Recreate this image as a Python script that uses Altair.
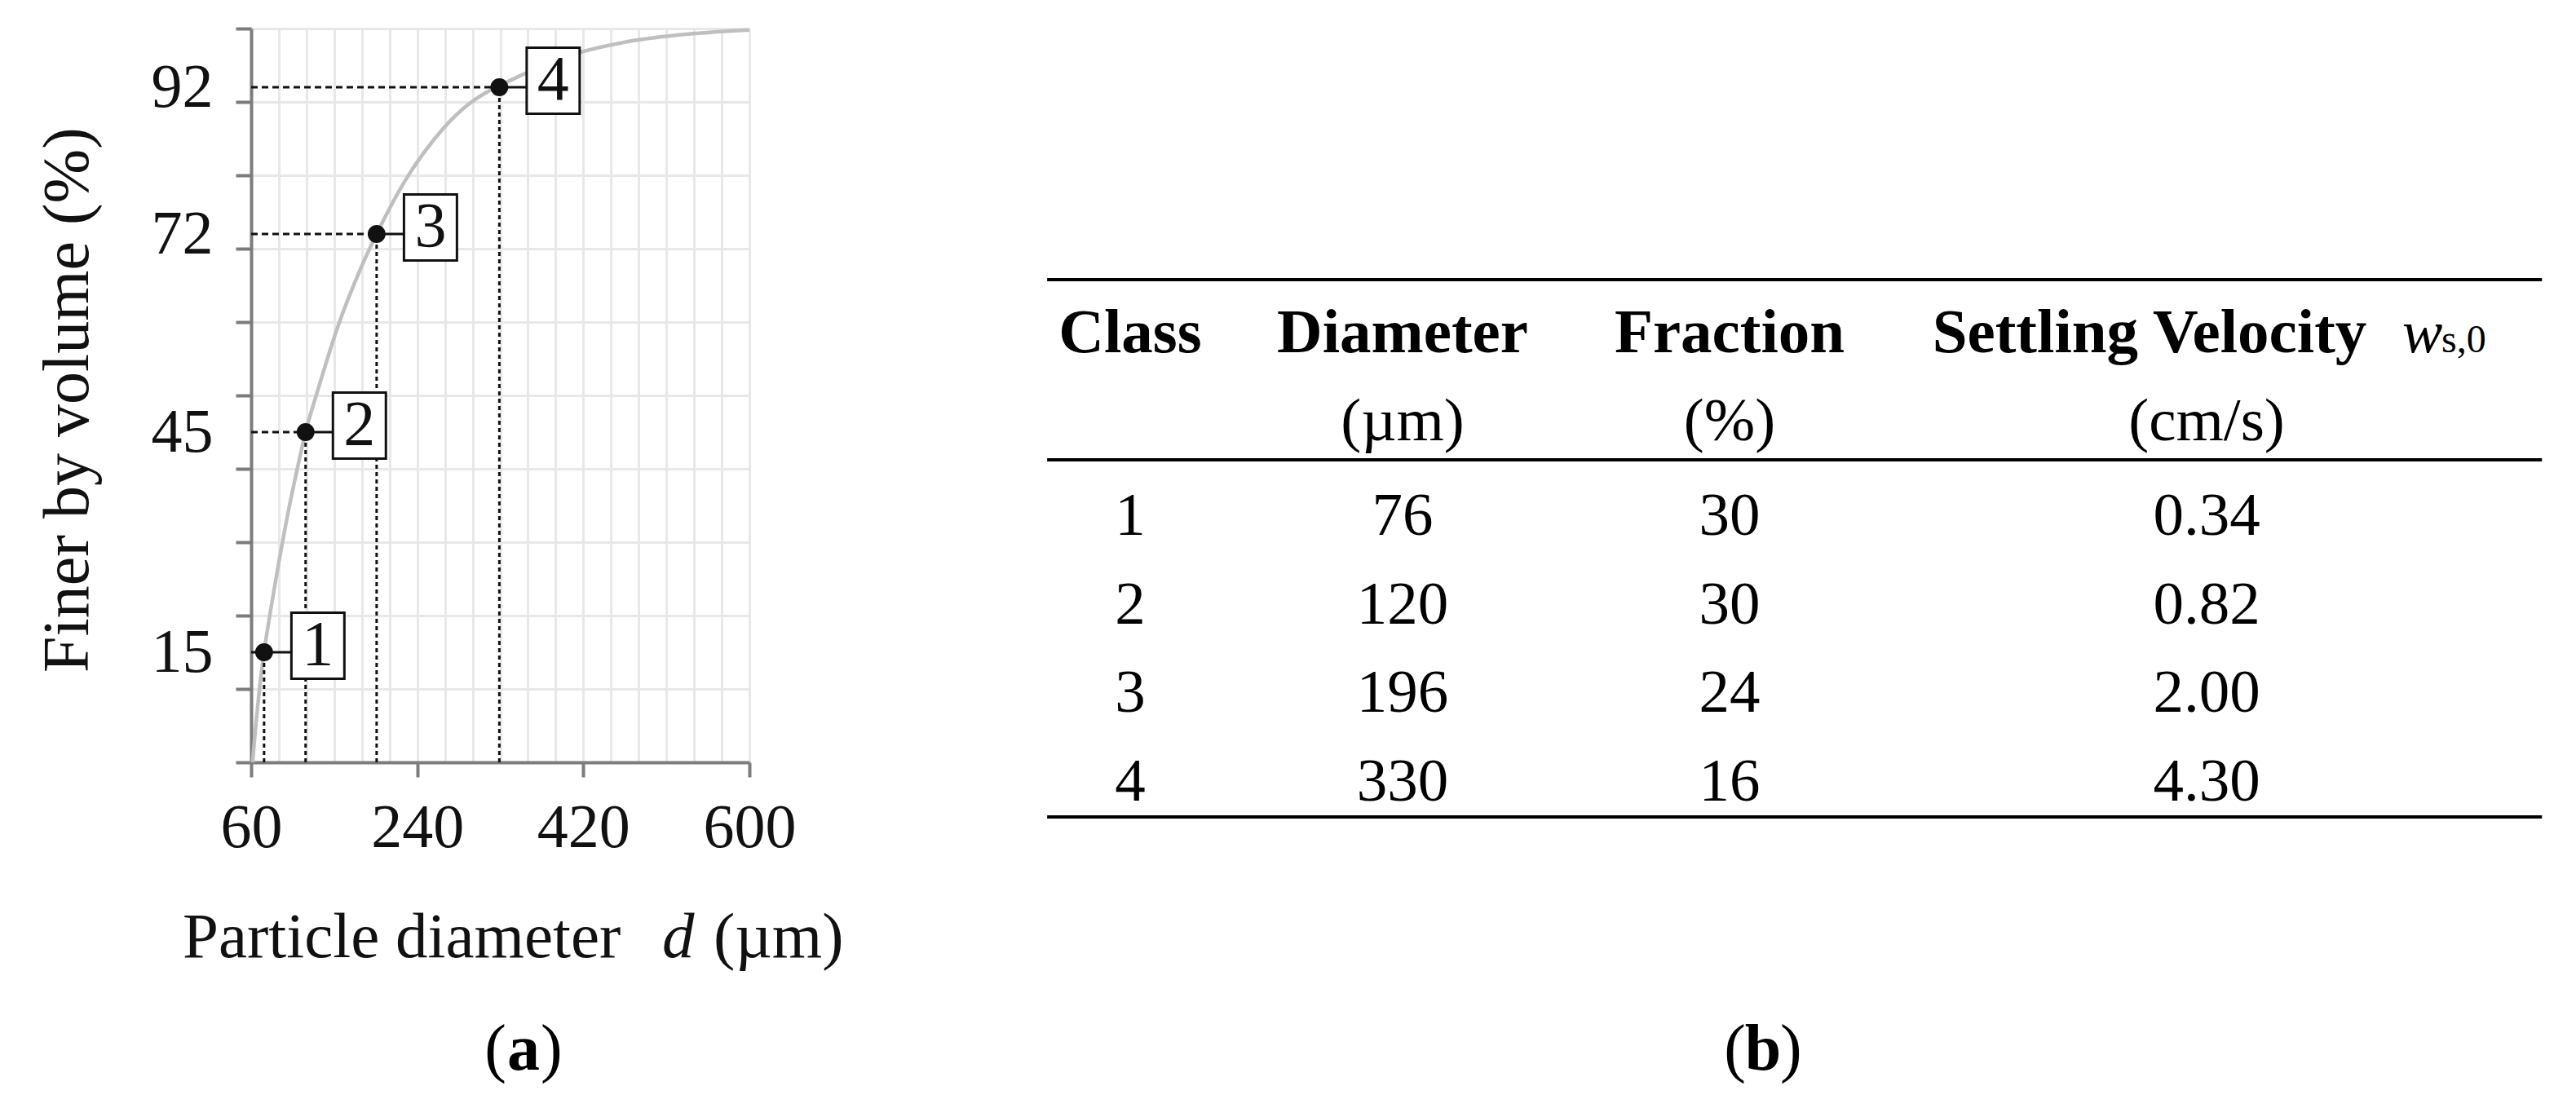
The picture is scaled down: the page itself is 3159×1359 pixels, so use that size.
import altair as alt
import pandas as pd

# ---------------- data ----------------
# cumulative grain-size curve (particle diameter in um, finer by volume in %)
curve_d = [61.5, 65, 69, 74, 82, 90, 99, 110, 119, 131, 154, 178, 196, 230, 259, 289, 315, 329, 370, 415, 463, 522, 600]
curve_f = [0, 5, 10, 15, 21.4, 27.3, 33.4, 40, 45, 50.2, 59.4, 67.1, 72, 79.9, 85.0, 89, 91.3, 92.2, 94.6, 96.7, 98.1, 99.1, 99.8]

# the four marked classes on the curve
class_ids = ["1", "2", "3", "4"]
class_d = [74, 119, 196, 329]
class_f = [15, 45, 72, 92]

# axis ticks / labels
x_label_values = [60, 240, 420, 600]
x_grid_values = [60, 90, 120, 150, 180, 210, 240, 270, 300, 330, 360, 390, 420, 450, 480, 510, 540, 570, 600]
y_label_values = [15, 45, 72, 92]
y_tick_values = [0, 10, 20, 30, 40, 50, 60, 70, 80, 90, 100]
x_title_parts = ["Particle diameter", "d", "(µm)"]
y_title = "Finer by volume (%)"

# table (b)
table_header1 = ["Class", "Diameter", "Fraction"]
table_header1_last = "Settling Velocity"
table_symbol = "w"
table_symbol_sub = "s,0"
table_header2 = ["", "(µm)", "(%)", "(cm/s)"]
table_class = ["1", "2", "3", "4"]
table_diameter = ["76", "120", "196", "330"]
table_fraction = ["30", "30", "24", "16"]
table_velocity = ["0.34", "0.82", "2.00", "4.30"]

caption_letters = ["a", "b"]

# ---------------- styling ----------------
SERIF = "Liberation Serif"
INK = "#111111"
AXIS_GREY = "#7c7c7c"
GRID_GREY = "#e8e8e8"

# layout helpers (table column / line placement, pixels relative to plot origin)
table_col_index = [0, 1, 2, 3]
table_col_px = [1078, 1412, 1813, 2398]
table_slot_index = [0, 1, 2, 5]
table_slot_px = [397, 505, 621, 947]
table_rule_slots = [-0.824, 1.207, 5.184]
table_rule_span = [-0.305, 3.703]
caption_index = [0, 1]
caption_px = [334, 1854]

# ---------------- frames ----------------
df_curve = pd.DataFrame({"d": curve_d, "f": curve_f})
df_pts = pd.DataFrame({"id": class_ids, "d": class_d, "f": class_f})
df_pts["x0"] = x_label_values[0]
df_pts["y0"] = y_tick_values[0]

xs = alt.Scale(domain=[60, 600], nice=False, zero=False)
ys = alt.Scale(domain=[0, 100], nice=False, zero=False)

x_axis = alt.Axis(
    values=x_grid_values,
    labelExpr=f"indexof({x_label_values}, datum.value) >= 0 ? datum.label : ''",
    tickOpacity={"condition": {"test": f"indexof({x_label_values}, datum.value) < 0", "value": 0}, "value": 1},
    grid=True, gridColor=GRID_GREY, gridWidth=3,
    domainColor=AXIS_GREY, domainWidth=4,
    tickColor=AXIS_GREY, tickWidth=4, tickSize=18,
    labelFont=SERIF, labelFontSize=76, labelColor=INK, labelPadding=85,
    labelBaseline="alphabetic", labelFlush=False, labelOverlap=False,
    title=None,
)
y_all_values = sorted(set(y_tick_values + y_label_values))
y_axis = alt.Axis(
    values=y_all_values,
    labelExpr=f"indexof({y_label_values}, datum.value) >= 0 ? datum.label : ''",
    tickOpacity={"condition": {"test": f"indexof({y_tick_values}, datum.value) < 0", "value": 0}, "value": 1},
    gridOpacity={"condition": {"test": f"indexof({y_tick_values}, datum.value) < 0", "value": 0}, "value": 1},
    grid=True, gridColor=GRID_GREY, gridWidth=3,
    domainColor=AXIS_GREY, domainWidth=4,
    tickColor=AXIS_GREY, tickWidth=4, tickSize=19,
    labelFont=SERIF, labelFontSize=76, labelColor=INK, labelPadding=28,
    labelBaseline="middle", labelFlush=False, labelOverlap=False,
    title=y_title, titleFont=SERIF, titleFontSize=80,
    titleFontWeight="normal", titleColor=INK, titleAngle=270,
    titleX=-225, titleY=455, titleBaseline="middle", titleAlign="center",
)

X = lambda f: alt.X(f, scale=xs, axis=x_axis)
Y = lambda f: alt.Y(f, scale=ys, axis=y_axis)

curve = alt.Chart(df_curve).mark_line(
    color="#bfbfbf", strokeWidth=4.5, interpolate="monotone"
).encode(x=X("d:Q"), y=Y("f:Q"))

vdash = alt.Chart(df_pts).mark_rule(
    color=INK, strokeWidth=3, strokeDash=[5, 4]
).encode(x=X("d:Q"), y=Y("y0:Q"), y2="f:Q")

hdash = alt.Chart(df_pts).mark_rule(
    color=INK, strokeWidth=3, strokeDash=[8, 5]
).encode(x=X("x0:Q"), x2="d:Q", y=Y("f:Q"))

box_path = "M-1.63,0.198H-0.802M-0.802,-1H0.802V1H-0.802Z"
boxes = alt.Chart(df_pts).mark_point(
    shape=box_path, size=6561, filled=True, fill="white", stroke=INK,
    strokeWidth=3, opacity=1, xOffset=66, yOffset=-8,
).encode(x=X("d:Q"), y=Y("f:Q"))

dots = alt.Chart(df_pts).mark_circle(size=480, color=INK, opacity=1).encode(
    x=X("d:Q"), y=Y("f:Q")
)

nums = alt.Chart(df_pts).mark_text(
    font=SERIF, fontSize=78, color=INK, dx=66, dy=-8, align="center", baseline="middle"
).encode(x=X("d:Q"), y=Y("f:Q"), text="id:N")

plot = alt.layer(curve, vdash, hdash, boxes, dots, nums)

# x-axis title with an italic "d"
xt_style = dict(font=SERIF, fontSize=79, color=INK, align="left", baseline="alphabetic")
xt1 = alt.Chart(pd.DataFrame({"t": [x_title_parts[0]]})).mark_text(**xt_style).encode(
    x=alt.value(-84), y=alt.value(1139), text="t:N")
xt2 = alt.Chart(pd.DataFrame({"t": [x_title_parts[1]]})).mark_text(fontStyle="italic", **xt_style).encode(
    x=alt.value(504), y=alt.value(1139), text="t:N")
xt3 = alt.Chart(pd.DataFrame({"t": [x_title_parts[2]]})).mark_text(**xt_style).encode(
    x=alt.value(567), y=alt.value(1139), text="t:N")

# ---------------- table ----------------
tx = alt.Scale(domain=table_col_index, range=table_col_px, nice=False, zero=False)
ty = alt.Scale(domain=table_slot_index, range=table_slot_px, nice=False, zero=False)
TX = lambda f: alt.X(f, scale=tx, axis=None)
TY = lambda f: alt.Y(f, scale=ty, axis=None)

df_h1 = pd.DataFrame({"col": [0, 1, 2], "slot": [0, 0, 0], "text": table_header1})
df_h1b = pd.DataFrame({"col": [3], "slot": [0], "text": [table_header1_last]})
df_sym = pd.DataFrame({"col": [3], "slot": [0], "text": [table_symbol]})
df_sub = pd.DataFrame({"col": [3], "slot": [0], "text": [table_symbol_sub]})

cells = []
for c, t in enumerate(table_header2):
    if t:
        cells.append({"col": c, "slot": 1, "text": t})
for r, row in enumerate(zip(table_class, table_diameter, table_fraction, table_velocity)):
    for c, t in enumerate(row):
        cells.append({"col": c, "slot": 2 + r, "text": t})
df_body = pd.DataFrame(cells)

df_rules = pd.DataFrame({"slot": table_rule_slots,
                         "x0": [table_rule_span[0]] * 3,
                         "x1": [table_rule_span[1]] * 3})

t_h1 = alt.Chart(df_h1).mark_text(
    font=SERIF, fontSize=77, fontWeight="bold", color="black", align="center", baseline="alphabetic"
).encode(x=TX("col:Q"), y=TY("slot:Q"), text="text:N")
t_h1b = alt.Chart(df_h1b).mark_text(
    font=SERIF, fontSize=77, fontWeight="bold", color="black", align="center", baseline="alphabetic", dx=-70
).encode(x=TX("col:Q"), y=TY("slot:Q"), text="text:N")
t_sym = alt.Chart(df_sym).mark_text(
    font=SERIF, fontSize=74, fontStyle="italic", color="black", align="left", baseline="alphabetic", dx=240
).encode(x=TX("col:Q"), y=TY("slot:Q"), text="text:N")
t_sub = alt.Chart(df_sub).mark_text(
    font=SERIF, fontSize=48, color="black", align="left", baseline="alphabetic", dx=288
).encode(x=TX("col:Q"), y=TY("slot:Q"), text="text:N")
t_body = alt.Chart(df_body).mark_text(
    font=SERIF, fontSize=75, color="black", align="center", baseline="alphabetic"
).encode(x=TX("col:Q"), y=TY("slot:Q"), text="text:N")
t_rules = alt.Chart(df_rules).mark_rule(color="black", strokeWidth=4).encode(
    x=TX("x0:Q"), x2="x1:Q", y=TY("slot:Q")
)

table = alt.layer(t_rules, t_h1, t_h1b, t_sym, t_sub, t_body)

# ---------------- captions: "(a)" and "(b)" with bold letters ----------------
df_cap = pd.DataFrame({"pos": caption_index, "letter": caption_letters})
capx = alt.X("pos:Q", scale=alt.Scale(domain=caption_index, range=caption_px, nice=False, zero=False), axis=None)
cap_style = dict(font=SERIF, fontSize=80, color="black", baseline="alphabetic")
cap_letter = alt.Chart(df_cap).mark_text(fontWeight="bold", align="center", **cap_style).encode(
    x=capx, y=alt.value(1277), text="letter:N")
cap_open = alt.Chart(df_cap).mark_text(align="right", dx=-21, text="(", **cap_style).encode(
    x=capx, y=alt.value(1277))
cap_close = alt.Chart(df_cap).mark_text(align="left", dx=21, text=")", **cap_style).encode(
    x=capx, y=alt.value(1277))
cap = alt.layer(cap_letter, cap_open, cap_close)

chart = alt.layer(plot, xt1, xt2, xt3, table, cap).resolve_scale(
    x="independent", y="independent"
).properties(
    width=611, height=900,
    padding={"left": 300, "top": 27, "right": 2226, "bottom": 410},
    autosize=alt.AutoSizeParams(type="none"),
    background="white",
).configure_view(stroke=None)

chart.save("out.html", embed_options={"renderer": "svg", "actions": False})
